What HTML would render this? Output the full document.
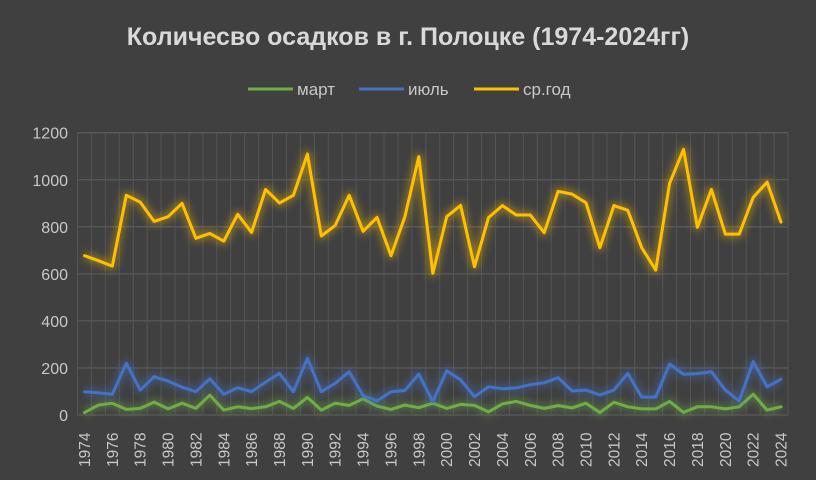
<!DOCTYPE html>
<html><head><meta charset="utf-8"><style>
html,body{margin:0;padding:0;background:#404040;}
svg{display:block;font-family:"Liberation Sans","DejaVu Sans",sans-serif;}
</style></head><body>
<svg id="chart" width="816" height="480" viewBox="0 0 816 480" xmlns="http://www.w3.org/2000/svg">
<defs>
<filter id="glow" x="-10%" y="-50%" width="120%" height="200%"><feGaussianBlur stdDeviation="4"/></filter>
</defs>
<rect width="816" height="480" fill="#404040"/>
<text x="408" y="45" text-anchor="middle" font-size="25" font-weight="bold" fill="#d9d9d9">Количесво осадков в г. Полоцке (1974-2024гг)</text>
<g>
<g><line x1="248" y1="89" x2="293" y2="89" stroke="#70ad47" stroke-width="3"/><text x="297" y="95" font-size="17" fill="#c8c8c8">март</text></g>
<g><line x1="359" y1="89" x2="404" y2="89" stroke="#4472c4" stroke-width="3"/><text x="408" y="95" font-size="17" fill="#c8c8c8">июль</text></g>
<g><line x1="474" y1="89" x2="519" y2="89" stroke="#ffc000" stroke-width="3"/><text x="523" y="95" font-size="17" fill="#c8c8c8">ср.год</text></g>
</g>
<g id="grid"></g>
<g id="yaxis"></g>
<g id="xaxis"></g>
<g id="series"></g>
</svg>
<script>
const years = [];
for (let y = 1974; y <= 2024; y++) years.push(y);
const march = [10,42,50,24,28,55,26,50,28,84,21,35,27,35,58,28,75,21,50,41,69,38,24,42,31,50,28,45,41,13,47,58,41,28,40,30,50,10,54,35,26,26,58,11,35,35,26,35,88,21,35];
const july = [99,95,88,220,106,163,144,118,99,154,88,116,99,140,177,99,241,99,135,184,82,60,99,104,174,57,188,149,78,120,112,115,129,137,159,102,106,85,106,177,76,76,217,173,176,184,106,60,227,120,152];
const annual = [677,656,633,934,905,823,843,900,751,772,739,853,776,959,901,934,1109,761,806,934,781,840,677,843,1098,602,843,891,630,839,890,850,850,775,951,939,902,711,890,870,711,616,985,1129,798,959,769,769,925,990,820];
const yTicks = [0,200,400,600,800,1000,1200];

const NS = "http://www.w3.org/2000/svg";
const plotLeft = 77.5, plotRight = 788, plotTop = 132.7, plotBottom = 415;
const yMax = 1200;
const step = (plotRight - plotLeft) / years.length;
function xPos(i){ return plotLeft + step * (i + 0.5); }
function yPos(v){ return plotBottom - (v / yMax) * (plotBottom - plotTop); }
function mk(tag, attrs, parent){ const e = document.createElementNS(NS, tag); for (const k in attrs) e.setAttribute(k, attrs[k]); parent.appendChild(e); return e; }

const grid = document.getElementById('grid');
yTicks.forEach(t => {
  const l = mk('line', {x1:plotLeft, x2:plotRight, y1:yPos(t), y2:yPos(t), stroke:'#595959', 'stroke-width':1.3}, grid);
  
  
});
for (let i = 0; i <= years.length; i++) {
  const x = plotLeft + step * i;
  const l = mk('line', {x1:x, x2:x, y1:plotTop, y2:plotBottom, stroke:'#555555', 'stroke-width':1}, grid);
  
  
}
const yaxis = document.getElementById('yaxis');
yTicks.forEach(t => {
  const tx = mk('text', {x:68, y:yPos(t)+6, 'text-anchor':'end', 'font-size':16, fill:'#c8c8c8'}, yaxis);
  tx.textContent = t;
  
  
});
const xaxis = document.getElementById('xaxis');
years.forEach((yr, i) => {
  if (i % 2 !== 0) return;
  const x = xPos(i) + 5.5;
  const tx = mk('text', {x:x, y:467, 'font-size':15.5, fill:'#c8c8c8', transform:'rotate(-90 '+x+' 467)'}, xaxis);
  tx.textContent = yr;
  
  
});
const series = document.getElementById('series');
const seriesDefs = [[march,'#70ad47','series-march'],[july,'#4472c4','series-july'],[annual,'#ffc000','series-annual']];
seriesDefs.forEach(function(d){
  const vals = d[0], col = d[1], name = d[2];
  const pts = vals.map((v,i) => xPos(i).toFixed(1)+','+yPos(v).toFixed(1)).join(' ');
  const g = mk('polyline', {points:pts, fill:'none', stroke:col, 'stroke-width':7, 'stroke-opacity':0.45, filter:'url(#glow)', 'stroke-linejoin':'round'}, series);
  
  
  const p = mk('polyline', {points:pts, fill:'none', stroke:col, 'stroke-width':3, 'stroke-linejoin':'round', 'stroke-linecap':'round'}, series);
  
  
});
</script>
</body></html>
